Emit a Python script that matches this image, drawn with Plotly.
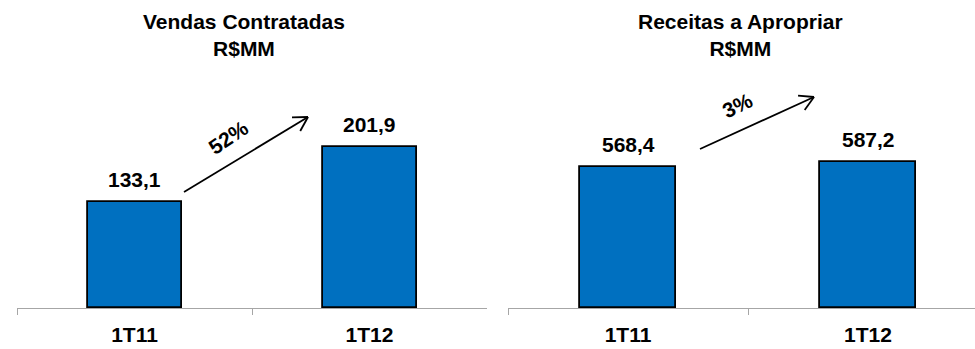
import math
import plotly.graph_objects as go

# ---- data ----
categories = ["1T11", "1T12"]
vendas_contratadas = [133.1, 201.9]
receitas_a_apropriar = [568.4, 587.2]
panel_titles = ["Vendas Contratadas<br>R$MM", "Receitas a Apropriar<br>R$MM"]

# ---- styling ----
W, H = 975, 349
BAR_BLUE = "#0070C0"
FONT = "Liberation Sans, Arial, sans-serif"
AXIS_GREY = "#A6A6A6"


def px_x(px):
    return px / W


def px_y(py):
    return 1 - py / H


def fmt(v):
    return f"{v:.1f}".replace(".", ",")


def growth(vals):
    return f"{round((vals[1] / vals[0] - 1) * 100):.0f}%"


# plot-area geometry (pixels)
base_y, top_y = 308, 68
left_dom = (17, 487)
right_dom = (508, 975)
right_cat_w = 240
ydom = [px_y(base_y), px_y(top_y)]

fig = go.Figure()
fig.add_trace(go.Bar(x=categories, y=vendas_contratadas, xaxis="x", yaxis="y",
                     width=0.4, marker=dict(color=BAR_BLUE, line=dict(color="black", width=1.8)),
                     hoverinfo="x+y"))
fig.add_trace(go.Bar(x=categories, y=receitas_a_apropriar, xaxis="x2", yaxis="y2",
                     width=0.4, marker=dict(color=BAR_BLUE, line=dict(color="black", width=1.8)),
                     hoverinfo="x+y"))

xcommon = dict(type="category", showgrid=False, zeroline=False, showline=True,
               linecolor=AXIS_GREY, linewidth=1, ticks="outside", tickson="boundaries",
               ticklen=6, tickcolor=AXIS_GREY, tickwidth=1, ticklabelstandoff=8,
               tickfont=dict(family=FONT, size=21, color="black", weight="bold"),
               fixedrange=True)
ycommon = dict(visible=False, showgrid=False, zeroline=False, domain=ydom, fixedrange=True)

right_end = -0.5 + (right_dom[1] - right_dom[0]) / right_cat_w

fig.update_layout(
    width=W, height=H, autosize=False,
    margin=dict(l=0, r=0, t=0, b=0),
    paper_bgcolor="white", plot_bgcolor="white",
    showlegend=False, bargap=0,
    xaxis=dict(domain=[px_x(left_dom[0]), px_x(left_dom[1])], range=[-0.5, 1.5], anchor="y", **xcommon),
    xaxis2=dict(domain=[px_x(right_dom[0]), px_x(right_dom[1])], range=[-0.5, right_end], anchor="y2", **xcommon),
    yaxis=dict(range=[0, 301.5], anchor="x", **ycommon),
    yaxis2=dict(range=[0, 967.7], anchor="x2", **ycommon),
)

annotations = []
# value labels above bars
for xa, ya, vals in (("x", "y", vendas_contratadas), ("x2", "y2", receitas_a_apropriar)):
    for c, v in zip(categories, vals):
        annotations.append(dict(x=c, y=v, xref=xa, yref=ya, text=fmt(v), showarrow=False,
                                yanchor="bottom", yshift=9,
                                font=dict(family=FONT, size=21, color="black", weight="bold")))

# panel titles
for cx, t in ((244, panel_titles[0]), (740, panel_titles[1])):
    annotations.append(dict(x=px_x(cx), y=px_y(8), xref="paper", yref="paper", text=t,
                            showarrow=False, xanchor="center", yanchor="top",
                            font=dict(family=FONT, size=21, color="black", weight="bold")))

shapes = []


def growth_arrow(start, tip, label, label_pos, angle):
    (x0, y0), (x1, y1) = start, tip
    line = dict(color="black", width=1.8)
    shapes.append(dict(type="line", xref="paper", yref="paper",
                       x0=px_x(x0), y0=px_y(y0), x1=px_x(x1), y1=px_y(y1), line=line))
    back = math.atan2(y0 - y1, x0 - x1)
    for d in (-0.52, 0.52):
        a = back + d
        ex, ey = x1 + 16 * math.cos(a), y1 + 16 * math.sin(a)
        shapes.append(dict(type="line", xref="paper", yref="paper",
                           x0=px_x(x1), y0=px_y(y1), x1=px_x(ex), y1=px_y(ey), line=line))
    annotations.append(dict(x=px_x(label_pos[0]), y=px_y(label_pos[1]), xref="paper", yref="paper",
                            text=label, showarrow=False, textangle=angle,
                            xanchor="center", yanchor="middle",
                            font=dict(family=FONT, size=21, color="black", weight="bold")))


growth_arrow((184, 192), (308, 117), growth(vendas_contratadas), (228, 137), -34)
growth_arrow((700, 149), (814, 97), growth(receitas_a_apropriar), (737, 105), -26)

fig.update_layout(annotations=annotations, shapes=shapes)
fig.write_html("out.html")
